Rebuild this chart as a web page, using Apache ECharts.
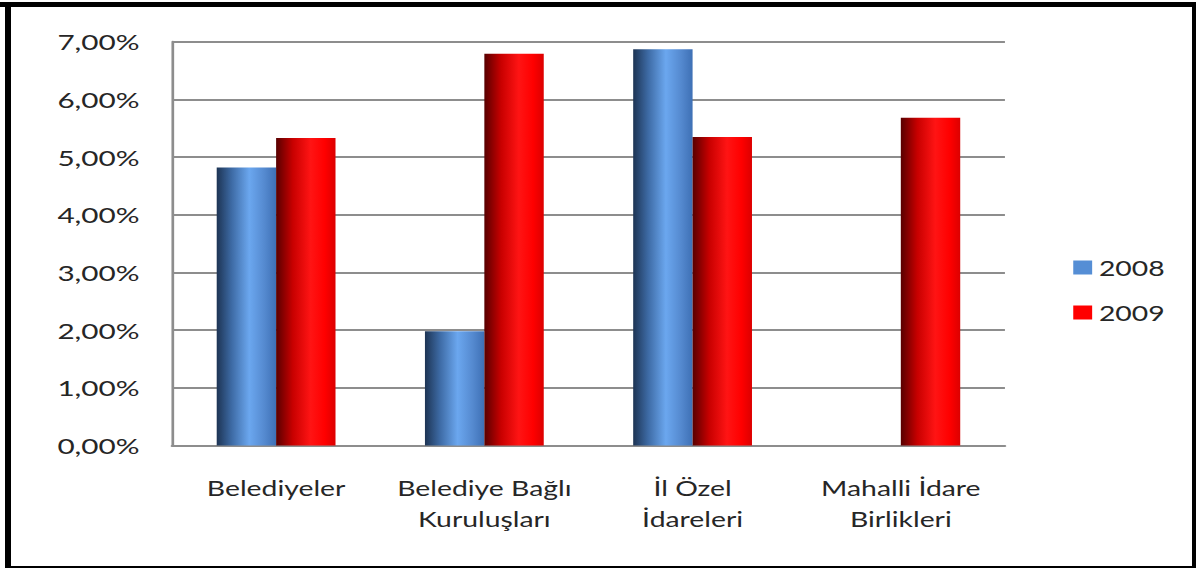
<!DOCTYPE html>
<html>
<head>
<meta charset="utf-8">
<script src="https://cdn.jsdelivr.net/npm/echarts@6/dist/echarts.min.js"></script>
<style>
  html, body { margin: 0; padding: 0; background: #fff; }
  #wrap { position: relative; width: 1196px; height: 569px; overflow: hidden; background: #fff; }
  /* the source picture is stretched sideways, so draw narrow and widen */
  #chart { position: absolute; left: 0; top: 0; width: 886px; height: 569px;
           transform: scaleX(1.35); transform-origin: 0 0; }
  #frame { position: absolute; left: 5px; top: 2px; right: 0; bottom: 1px; box-sizing: border-box;
           border-left: 6px solid #000; border-top: 5px solid #000;
           border-right: 4px solid #000; border-bottom: 2px solid #000; pointer-events: none; }
  #topband { position: absolute; left: 0; top: 2px; width: 10px; height: 5px; background: #000; }
</style>
</head>
<body>
<div id="wrap">
  <div id="chart"></div>
  <div id="frame"></div>
  <div id="topband"></div>
</div>
<script>
// kategoriler ve değerler (%)
const categories = [
  "Belediyeler",
  "Belediye Bağlı\nKuruluşları",
  "İl Özel\nİdareleri",
  "Mahalli İdare\nBirlikleri",
];
const years = ["2008", "2009"];
const values2008 = [4.82, 1.98, 6.87, null];
const values2009 = [5.33, 6.79, 5.35, 5.68];

const font = "Lato, 'Open Sans', sans-serif";
const textColor = "#262626";

// yandan bakınca silindir gibi görünen dolgu
const blueFill = new echarts.graphic.LinearGradient(0, 0, 1, 0, [
  { offset: 0, color: "#1d3454" },
  { offset: 0.25, color: "#3d6aa4" },
  { offset: 0.55, color: "#6ba7ef" },
  { offset: 0.8, color: "#558ad0" },
  { offset: 1, color: "#3e70b5" },
]);
const redFill = new echarts.graphic.LinearGradient(0, 0, 1, 0, [
  { offset: 0, color: "#580000" },
  { offset: 0.28, color: "#c80000" },
  { offset: 0.58, color: "#ff1414" },
  { offset: 0.82, color: "#ff0000" },
  { offset: 1, color: "#dc0000" },
]);

let myChart = echarts.init(document.getElementById("chart"), null, { renderer: "svg" });

let option = {
  backgroundColor: "transparent",
  animation: false,
  textStyle: { fontFamily: font },
  grid: {
    left: 127.4,
    right: 141.6,
    top: 41.7,
    bottom: 123.4,
  },
  legend: {
    orient: "vertical",
    left: 790,
    top: 252,
    itemWidth: 14,
    itemHeight: 14,
    itemGap: 24,
    itemTextGap: 6,
    icon: "rect",
    textStyle: { fontFamily: font, fontSize: 21, color: textColor },
    data: [
      { name: years[0], itemStyle: { color: "#558ed5" } },
      { name: years[1], itemStyle: { color: "#ff0000" } },
    ],
  },
  xAxis: {
    type: "category",
    data: categories,
    axisTick: { show: false },
    axisLine: { lineStyle: { color: "#8d8d8d", width: 2 } },
    axisLabel: {
      margin: 26,
      fontFamily: font,
      fontSize: 21,
      lineHeight: 31,
      color: textColor,
      interval: 0,
    },
  },
  yAxis: {
    type: "value",
    min: 0,
    max: 7,
    interval: 1,
    axisLine: { show: true, lineStyle: { color: "#8d8d8d", width: 2 } },
    axisTick: { show: false },
    splitLine: { lineStyle: { color: "#8d8d8d", width: 2 } },
    axisLabel: {
      margin: 24,
      fontFamily: font,
      fontSize: 22,
      color: textColor,
      formatter: function (v) {
        return v.toFixed(2).replace(".", ",") + "%";
      },
    },
  },
  series: [
    {
      name: years[0],
      type: "bar",
      data: values2008,
      barWidth: 44,
      barGap: "0%",
      itemStyle: { color: blueFill },
    },
    {
      name: years[1],
      type: "bar",
      data: values2009,
      barWidth: 44,
      barGap: "0%",
      itemStyle: { color: redFill },
    },
  ],
};

myChart.setOption(option);
</script>
</body>
</html>
